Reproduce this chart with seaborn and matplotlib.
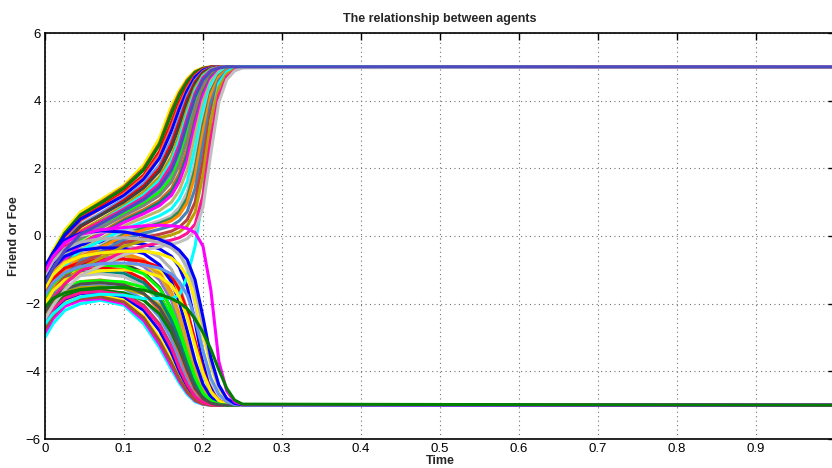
import matplotlib
matplotlib.use("Agg")
import matplotlib.pyplot as plt
import pandas as pd
import seaborn as sns

# Sample times (s) shared by every agent trajectory
TIME = [0.0, 0.01, 0.025, 0.045, 0.07, 0.10, 0.125, 0.145, 0.16, 0.17,
        0.18, 0.19, 0.20, 0.21, 0.22, 0.23, 0.24, 0.25, 1.0]

# Trajectories that settle at +5 (friends)
FRIENDS = [
    [-0.92, -0.43, 0.17, 0.71, 1.06, 1.5, 2.1, 2.9, 3.85, 4.3, 4.65, 4.88, 4.97, 5, 5, 5, 5, 5, 5],
    [-1.05, -0.54, 0.07, 0.63, 0.99, 1.45, 2.0, 2.75, 3.7, 4.22, 4.6, 4.85, 4.96, 5, 5, 5, 5, 5, 5],
    [-1.0, -0.51, 0.08, 0.62, 0.96, 1.4, 1.95, 2.7, 3.6, 4.15, 4.55, 4.83, 4.95, 4.99, 5, 5, 5, 5, 5],
    [-1.1, -0.61, -0.02, 0.52, 0.86, 1.3, 1.8, 2.5, 3.35, 3.95, 4.42, 4.76, 4.93, 4.99, 5, 5, 5, 5, 5],
    [-1.2, -0.7, -0.1, 0.45, 0.8, 1.25, 1.74, 2.4, 3.22, 3.85, 4.36, 4.73, 4.92, 4.98, 5, 5, 5, 5, 5],
    [-0.95, -0.51, 0.02, 0.5, 0.81, 1.2, 1.68, 2.3, 3.1, 3.75, 4.3, 4.7, 4.9, 4.98, 5, 5, 5, 5, 5],
    [-1.25, -0.77, -0.19, 0.33, 0.67, 1.1, 1.55, 2.1, 2.85, 3.5, 4.15, 4.6, 4.86, 4.97, 5, 5, 5, 5, 5],
    [-1.35, -0.86, -0.27, 0.27, 0.61, 1.05, 1.48, 2.0, 2.72, 3.38, 4.05, 4.55, 4.84, 4.96, 5, 5, 5, 5, 5],
    [-1.15, -0.71, -0.18, 0.3, 0.61, 1.0, 1.42, 1.92, 2.6, 3.25, 3.95, 4.5, 4.82, 4.95, 4.99, 5, 5, 5, 5],
    [-1.4, -0.93, -0.37, 0.15, 0.48, 0.9, 1.3, 1.75, 2.35, 3.0, 3.75, 4.38, 4.76, 4.93, 4.99, 5, 5, 5, 5],
    [-1.5, -1.02, -0.44, 0.08, 0.42, 0.85, 1.22, 1.65, 2.22, 2.85, 3.62, 4.3, 4.72, 4.92, 4.98, 5, 5, 5, 5],
    [-1.3, -0.87, -0.35, 0.12, 0.42, 0.8, 1.15, 1.55, 2.1, 2.7, 3.5, 4.22, 4.68, 4.9, 4.98, 5, 5, 5, 5],
    [-1.55, -1.09, -0.54, -0.03, 0.29, 0.7, 1.03, 1.38, 1.85, 2.4, 3.2, 4.02, 4.58, 4.86, 4.96, 5, 5, 5, 5],
    [-1.65, -1.18, -0.62, -0.1, 0.23, 0.65, 0.96, 1.3, 1.72, 2.25, 3.02, 3.9, 4.52, 4.83, 4.95, 4.99, 5, 5, 5],
    [-1.45, -1.03, -0.53, -0.06, 0.23, 0.6, 0.9, 1.2, 1.6, 2.1, 2.85, 3.8, 4.45, 4.8, 4.94, 4.99, 5, 5, 5],
    [-1.7, -1.25, -0.71, -0.22, 0.1, 0.5, 0.78, 1.05, 1.4, 1.85, 2.55, 3.55, 4.3, 4.73, 4.92, 4.98, 5, 5, 5],
    [-1.8, -1.34, -0.79, -0.28, 0.04, 0.45, 0.72, 0.98, 1.3, 1.72, 2.4, 3.42, 4.22, 4.7, 4.9, 4.97, 5, 5, 5],
    [-1.6, -1.19, -0.7, -0.25, 0.04, 0.4, 0.66, 0.9, 1.2, 1.6, 2.25, 3.3, 4.15, 4.65, 4.89, 4.97, 5, 5, 5],
    [-1.85, -1.41, -0.88, -0.4, -0.09, 0.3, 0.55, 0.75, 1.0, 1.35, 1.95, 3.0, 3.98, 4.58, 4.86, 4.96, 4.99, 5, 5],
    [-1.75, -1.35, -0.87, -0.43, -0.15, 0.2, 0.42, 0.6, 0.8, 1.1, 1.6, 2.6, 3.75, 4.48, 4.82, 4.95, 4.99, 5, 5],
    [-2.0, -1.57, -1.05, -0.58, -0.28, 0.1, 0.3, 0.45, 0.6, 0.85, 1.3, 2.2, 3.45, 4.35, 4.77, 4.93, 4.98, 5, 5],
    [-2.05, -1.62, -1.1, -0.63, -0.33, 0.05, 0.24, 0.38, 0.52, 0.72, 1.12, 2.0, 3.3, 4.28, 4.74, 4.92, 4.98, 5, 5],
    [-1.9, -1.51, -1.04, -0.61, -0.34, 0.0, 0.18, 0.32, 0.45, 0.62, 0.98, 1.8, 3.1, 4.18, 4.7, 4.9, 4.97, 5, 5],
    [-2.15, -1.73, -1.23, -0.76, -0.47, -0.1, 0.08, 0.2, 0.3, 0.45, 0.72, 1.4, 2.7, 3.95, 4.6, 4.87, 4.96, 4.99, 5],
    [-2.0, -1.63, -1.2, -0.8, -0.54, -0.2, -0.05, 0.05, 0.14, 0.26, 0.48, 1.0, 2.25, 3.7, 4.5, 4.83, 4.95, 4.99, 5],
    [-2.6, -2.3, -2.0, -1.8, -1.72, -1.75, -1.85, -1.85, -1.85, -1.75, -1.2, -0.3, 1.2, 3.4, 4.5, 4.85, 4.96, 5, 5],
    [-2.3, -1.89, -1.4, -0.95, -0.66, -0.3, -0.14, -0.05, 0.03, 0.12, 0.3, 0.7, 1.8, 3.4, 4.38, 4.78, 4.93, 4.98, 5],
    [-2.2, -1.84, -1.42, -1.03, -0.78, -0.45, -0.3, -0.2, -0.12, -0.05, 0.08, 0.35, 1.2, 2.9, 4.15, 4.7, 4.9, 4.98, 5],
    [-2.45, -2.06, -1.59, -1.16, -0.89, -0.55, -0.42, -0.32, -0.25, -0.18, -0.08, 0.15, 0.85, 2.45, 3.95, 4.62, 4.88, 4.97, 5],
    [-1.4, -0.96, -0.43, 0.05, 0.36, 0.75, 1.08, 1.46, 1.95, 2.55, 3.35, 4.12, 4.62, 4.88, 4.97, 5, 5, 5, 5],
]

# Trajectories that settle at -5 (foes)
FOES = [
    [-3.0, -2.6, -2.2, -2.0, -1.9, -2.05, -2.6, -3.3, -3.95, -4.35, -4.68, -4.9, -4.98, -5, -5, -5, -5, -5, -5],
    [-2.85, -2.45, -2.08, -1.9, -1.85, -2.0, -2.5, -3.2, -3.85, -4.28, -4.63, -4.87, -4.97, -5, -5, -5, -5, -5, -5],
    [-2.7, -2.3, -1.95, -1.8, -1.75, -1.9, -2.35, -3.0, -3.65, -4.15, -4.55, -4.83, -4.95, -4.99, -5, -5, -5, -5, -5],
    [-2.6, -2.2, -1.87, -1.7, -1.67, -1.8, -2.2, -2.8, -3.45, -4.0, -4.45, -4.78, -4.93, -4.98, -5, -5, -5, -5, -5],
    [-2.5, -2.1, -1.78, -1.62, -1.58, -1.7, -2.05, -2.6, -3.25, -3.82, -4.35, -4.72, -4.91, -4.98, -5, -5, -5, -5, -5],
    [-2.35, -1.97, -1.65, -1.5, -1.46, -1.55, -1.88, -2.4, -3.05, -3.65, -4.22, -4.65, -4.88, -4.97, -5, -5, -5, -5, -5],
    [-2.2, -1.82, -1.5, -1.35, -1.3, -1.4, -1.7, -2.2, -2.85, -3.45, -4.08, -4.57, -4.84, -4.96, -5, -5, -5, -5, -5],
    [-2.45, -2.08, -1.78, -1.65, -1.62, -1.68, -1.9, -2.3, -2.85, -3.35, -3.95, -4.48, -4.8, -4.94, -4.99, -5, -5, -5, -5],
    [-2.05, -1.66, -1.33, -1.17, -1.12, -1.2, -1.48, -1.95, -2.6, -3.2, -3.88, -4.43, -4.77, -4.93, -4.99, -5, -5, -5, -5],
    [-1.9, -1.5, -1.16, -0.98, -0.93, -1.0, -1.28, -1.75, -2.4, -3.0, -3.7, -4.32, -4.72, -4.91, -4.98, -5, -5, -5, -5],
    [-2.3, -1.95, -1.66, -1.53, -1.5, -1.55, -1.72, -2.05, -2.55, -3.08, -3.72, -4.3, -4.7, -4.9, -4.98, -5, -5, -5, -5],
    [-1.75, -1.35, -1.0, -0.82, -0.76, -0.82, -1.08, -1.52, -2.15, -2.78, -3.52, -4.2, -4.66, -4.88, -4.97, -5, -5, -5, -5],
    [-2.15, -1.79, -1.49, -1.35, -1.32, -1.36, -1.52, -1.82, -2.3, -2.85, -3.52, -4.18, -4.64, -4.87, -4.97, -5, -5, -5, -5],
    [-1.6, -1.2, -0.86, -0.68, -0.62, -0.67, -0.9, -1.3, -1.9, -2.55, -3.35, -4.08, -4.6, -4.85, -4.96, -5, -5, -5, -5],
    [-1.45, -1.05, -0.7, -0.52, -0.46, -0.5, -0.7, -1.08, -1.65, -2.3, -3.15, -3.95, -4.53, -4.82, -4.95, -4.99, -5, -5, -5],
    [-1.85, -1.47, -1.15, -0.95, -0.85, -0.82, -0.85, -1.0, -1.3, -1.7, -2.35, -3.2, -4.05, -4.6, -4.87, -4.97, -5, -5, -5],
    [-1.3, -0.9, -0.56, -0.38, -0.3, -0.3, -0.4, -0.62, -0.98, -1.45, -2.2, -3.2, -4.1, -4.62, -4.88, -4.97, -5, -5, -5],
    [-1.2, -0.8, -0.45, -0.26, -0.18, -0.17, -0.24, -0.38, -0.6, -0.92, -1.5, -2.55, -3.75, -4.45, -4.8, -4.95, -4.99, -5, -5],
    [-2.75, -2.36, -2.0, -1.85, -1.8, -1.95, -2.42, -3.1, -3.75, -4.22, -4.6, -4.85, -4.96, -5, -5, -5, -5, -5, -5],
    [-1.95, -1.57, -1.25, -1.08, -1.03, -1.1, -1.38, -1.85, -2.5, -3.1, -3.8, -4.38, -4.75, -4.92, -4.98, -5, -5, -5, -5],
    [-1.5, -1.1, -0.76, -0.58, -0.52, -0.56, -0.78, -1.17, -1.75, -2.4, -3.22, -4.0, -4.56, -4.84, -4.96, -5, -5, -5, -5],
    [-1.0, -0.58, -0.2, 0.02, 0.12, 0.15, 0.1, -0.02, -0.22, -0.5, -1.0, -2.0, -3.4, -4.3, -4.75, -4.93, -4.99, -5, -5],
    [-1.65, -1.27, -0.95, -0.78, -0.7, -0.68, -0.75, -0.92, -1.2, -1.58, -2.2, -3.1, -4.0, -4.58, -4.86, -4.96, -5, -5, -5],
    [-2.55, -2.17, -1.84, -1.68, -1.64, -1.74, -2.1, -2.65, -3.3, -3.9, -4.4, -4.75, -4.92, -4.98, -5, -5, -5, -5, -5],
    [-1.35, -0.95, -0.6, -0.42, -0.35, -0.36, -0.52, -0.85, -1.35, -1.95, -2.8, -3.7, -4.38, -4.76, -4.93, -4.99, -5, -5, -5],
    [-2.0, -1.62, -1.3, -1.12, -1.03, -1.0, -1.05, -1.2, -1.45, -1.8, -2.4, -3.25, -4.05, -4.6, -4.87, -4.97, -5, -5, -5],
    [-1.8, -1.42, -1.1, -0.92, -0.86, -0.9, -1.12, -1.55, -2.15, -2.75, -3.5, -4.18, -4.64, -4.87, -4.97, -5, -5, -5, -5],
    [-2.25, -1.88, -1.57, -1.42, -1.38, -1.45, -1.7, -2.12, -2.7, -3.28, -3.95, -4.5, -4.8, -4.94, -4.99, -5, -5, -5, -5],
    [-1.55, -1.15, -0.8, -0.6, -0.5, -0.45, -0.45, -0.52, -0.65, -0.85, -1.2, -1.85, -2.9, -3.85, -4.5, -4.85, -4.96, -5, -5],
    [-1.75, -1.38, -1.08, -0.9, -0.82, -0.8, -0.85, -0.95, -1.12, -1.35, -1.75, -2.45, -3.4, -4.2, -4.68, -4.9, -4.98, -5, -5],
    [-1.15, -0.75, -0.38, -0.18, -0.08, -0.05, -0.1, -0.2, -0.35, -0.55, -0.9, -1.55, -2.65, -3.75, -4.45, -4.82, -4.95, -5, -5],
    [-0.9, -0.5, -0.12, 0.08, 0.15, 0.12, 0.02, -0.1, -0.25, -0.42, -0.7, -1.3, -2.4, -3.6, -4.4, -4.8, -4.95, -4.99, -5],
    [-1.05, -0.62, -0.2, 0.05, 0.18, 0.25, 0.3, 0.32, 0.3, 0.28, 0.22, 0.1, -0.3, -1.6, -3.7, -4.58, -4.9, -4.98, -5],
    [-2.1, -1.85, -1.68, -1.58, -1.53, -1.52, -1.6, -1.72, -1.85, -1.97, -2.15, -2.45, -2.85, -3.35, -3.95, -4.5, -4.85, -4.97, -5],
]

FRIEND_COLORS = [
    "#ffee00", "#a0522d", "#007f00", "#ff0000", "#ff6040", "#0000ff",
    "#6495ed", "#ff0000", "#404040", "#b8a000", "#00ffff", "#ff1493",
    "#9370db", "#00ff00", "#808080", "#d2691e", "#008080", "#ff00ff",
    "#bdb76b", "#00ffff", "#c0c0c0", "#2e8b57", "#ff8c00", "#4682b4",
    "#c04040", "#00ffff", "#b8a000", "#ff1493", "#c0c0c0", "#4b4bbf",
]
FOE_COLORS = [
    "#00ffff", "#ff00ff", "#ffee00", "#0000ff", "#a0522d", "#6495ed",
    "#ff6040", "#007f00", "#c0c0c0", "#ff0000", "#b8a000", "#404040",
    "#00ff00", "#9370db", "#ff8c00", "#ffee00", "#b0b0b0", "#0000ff",
    "#a0522d", "#008080", "#daa520", "#c8c8c8", "#ff0000", "#ff1493",
    "#0000ff", "#ffee00", "#00ff00", "#505050", "#ffee00", "#6495ed",
    "#b0b0b0", "#0000ff", "#ff00ff", "#007f00",
]

rows = []
palette = {}
friend_names = [f"friend{i}" for i in range(len(FRIENDS))]
foe_names = [f"foe{i}" for i in range(len(FOES))]
for name, series, color in zip(friend_names, FRIENDS, FRIEND_COLORS):
    assert len(series) == len(TIME)
    palette[name] = color
    rows += [{"agent": name, "time": t, "value": v} for t, v in zip(TIME, series)]
for name, series, color in zip(foe_names, FOES, FOE_COLORS):
    assert len(series) == len(TIME)
    palette[name] = color
    rows += [{"agent": name, "time": t, "value": v} for t, v in zip(TIME, series)]
df = pd.DataFrame(rows)

# Interleave the two groups; the last friend and last foe go on top
order = []
for i in range(max(len(friend_names), len(foe_names)) - 1):
    if i < len(friend_names) - 1:
        order.append(friend_names[i])
    if i < len(foe_names) - 1:
        order.append(foe_names[i])
order += [friend_names[-1], foe_names[-1]]

sns.set_style("white")
plt.rcParams["font.family"] = ["Liberation Sans", "DejaVu Sans"]

fig = plt.figure(figsize=(8.32, 4.68), dpi=100)
ax = fig.add_axes([45 / 832, 29 / 468, 790 / 832, 406 / 468])

sns.lineplot(data=df, x="time", y="value", hue="agent", hue_order=order,
             palette=palette, estimator=None, sort=False, legend=False,
             linewidth=2.2, ax=ax)

ax.set_xlim(0, 1)
ax.set_ylim(-6, 6)
ax.set_xticks([i / 10 for i in range(11)])
ax.set_xticklabels(["0"] + [f"0.{i}" for i in range(1, 10)] + [""])
ax.set_yticks(range(-6, 7, 2))
ax.set_axisbelow(True)
ax.grid(True, linestyle=(0, (1, 3)), color="0.45", linewidth=0.8)
for side in ax.spines.values():
    side.set_color("black")
    side.set_linewidth(1.2)
ax.tick_params(direction="in", length=5, width=1, top=True, right=True,
               labelsize=9.5, colors="black", pad=3)

ax.set_title("The relationship between agents", fontsize=9, fontweight="bold",
             family=["Liberation Sans Narrow", "Liberation Sans", "DejaVu Sans"],
             pad=8)
ax.set_xlabel("Time", fontsize=9, fontweight="bold", labelpad=0)
ax.set_ylabel("Friend or Foe", fontsize=9, fontweight="bold", labelpad=4)

fig.savefig("out.png", dpi=100)
